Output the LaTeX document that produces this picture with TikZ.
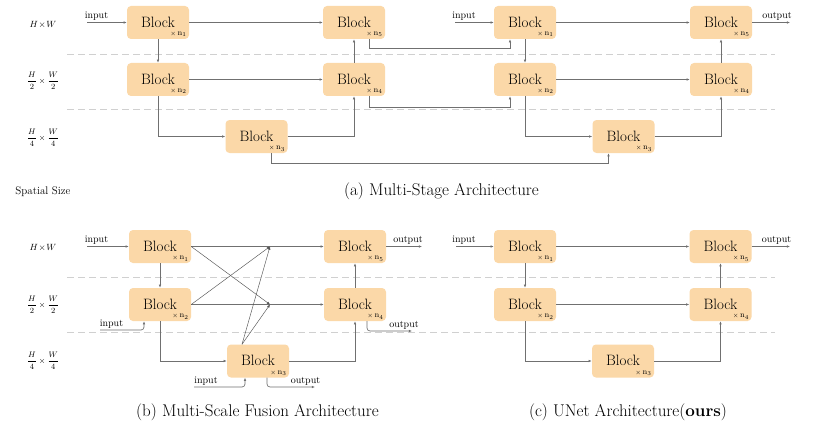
\documentclass[tikz,border=0pt]{standalone}
\usepackage{fontspec}
\usetikzlibrary{arrows.meta,calc}
\definecolor{blkfill}{RGB}{251,216,168}
\definecolor{lncol}{RGB}{112,112,112}
\definecolor{dashcol}{RGB}{208,208,208}
\tikzset{
 blk/.style={fill=blkfill, draw=none, rounded corners=4pt, minimum width=62pt, minimum height=33pt, inner sep=0pt, font=\fontsize{15}{18}\selectfont},
 subl/.style={anchor=south east, inner sep=0pt, xshift=-2.5pt, yshift=2pt, font=\fontsize{8}{9}\selectfont},
 conn/.style={draw=lncol, line width=0.65pt},
 arr/.style={conn, -{Latex[length=3.2pt,width=2.6pt]}},
 diag/.style={draw=lncol!75!black, line width=0.45pt, -{Latex[length=3.2pt,width=2.6pt]}},
 sepline/.style={draw=dashcol, line width=0.8pt, dash pattern=on 7pt off 4pt},
 io/.style={anchor=south, font=\fontsize{10}{12}\selectfont, inner sep=1.5pt},
 sizelab/.style={font=\fontsize{9}{11}\selectfont},
 fraclab/.style={font=\fontsize{8}{10}\selectfont},
 capt/.style={font=\fontsize{17}{20}\selectfont},
}
\newcommand\blkn[4]{%
  \node[blk] (#1) at (#2,#3) {\raisebox{1pt}{Block}};
  \node[subl] (#1s) at (#1.south east) {${\scriptstyle\times}\,\mathrm{n}_{#4}$};}
\newcommand\fraclabel[1]{$\displaystyle\frac{H}{#1}\times\frac{W}{#1}$}
\begin{document}
\begin{tikzpicture}[x=1pt,y=-1pt]
\fill[white] (0,0) rectangle (817,428);
\useasboundingbox (0,0) rectangle (817,428);

% ---------- separators ----------
\draw[sepline] (67,54) -- (775,54);
\draw[sepline] (67,109) -- (775,109);
\draw[sepline] (67,277) -- (775,277);
\draw[sepline] (67,332) -- (775,332);

% ---------- size labels ----------
\node[sizelab] (s1) at (43,25) {$H\!\times\! W$};
\node[fraclab] (s2) at (43,80.5) {\fraclabel{2}};
\node[fraclab] (s3) at (43,137.5) {\fraclabel{4}};
\node[font=\fontsize{11}{13}\selectfont] (ss) at (43,192) {Spatial Size};
\node[sizelab] (t1) at (43,248) {$H\!\times\! W$};
\node[fraclab] (t2) at (43,304.5) {\fraclabel{2}};
\node[fraclab] (t3) at (43,361) {\fraclabel{4}};

% ---------- (a) stage 1 ----------
\blkn{a1}{158}{22.5}{1}
\blkn{a2}{158}{79.5}{2}
\blkn{a3}{256.5}{136.5}{3}
\blkn{a4}{354}{79.5}{4}
\blkn{a5}{354}{22.5}{5}
% ---------- (a) stage 2 ----------
\blkn{c1}{525}{22.5}{1}
\blkn{c2}{525}{79.5}{2}
\blkn{c3}{623.5}{136.5}{3}
\blkn{c4}{721}{79.5}{4}
\blkn{c5}{721}{22.5}{5}

\foreach \S in {a,c}{
  \draw[arr] (\S1) -- (\S5);
  \draw[arr] (\S1) -- (\S2);
  \draw[arr] (\S2) -- (\S4);
  \draw[arr] (\S2) |- (\S3);
  \draw[arr] (\S3) -| (\S4);
  \draw[arr] (\S4) -- (\S5);
}
\draw[arr] ([xshift=15pt]a5.south) -- ++(0,9) -| ([xshift=-15pt]c1.south);
\draw[arr] ([xshift=15pt]a4.south) -- ++(0,11) -| ([xshift=-15pt]c2.south);
\draw[arr] ([xshift=15pt]a3.south) -- ++(0,10) -| ([xshift=-15pt]c3.south);

\coordinate (ain1) at (87,22.5);
\draw[arr] (ain1) -- (a1);
\node[io] (ain1t) at (96.5,22.5) {input};
\coordinate (ain2) at (455,22.5);
\draw[arr] (ain2) -- (c1);
\node[io] (ain2t) at (464,22.5) {input};
\coordinate (aout) at (790,22.5);
\draw[arr] (c5) -- (aout);
\node[io] (aoutt) at (777,22.5) {output};

\node[capt] (capa) at (441.5,191) {(a) Multi-Stage Architecture};

% ---------- (b) ----------
\blkn{b1}{160}{246.5}{1}
\blkn{b2}{160}{304.5}{2}
\blkn{b3}{258}{361}{3}
\blkn{b4}{355}{304.5}{4}
\blkn{b5}{355}{246.5}{5}
\draw[arr] (b1) -- (b5);
\draw[arr] (b1) -- (b2);
\draw[arr] (b2) -- (b4);
\draw[arr] (b2) |- (b3);
\draw[arr] (b3) -| (b4);
\draw[arr] (b4) -- (b5);
\coordinate (m1) at (270,246.5);
\coordinate (m2) at (270,304.5);
\draw[diag] (b1.east) -- (m2);
\draw[diag] (b2.east) -- (m1);
\draw[diag] ([xshift=-16pt]b3.north) -- (m1);
\draw[diag] ([xshift=-16pt]b3.north) -- (m2);

\coordinate (bi1) at (87,246.5);
\draw[arr] (bi1) -- (b1);
\node[io] (bi1t) at (96.5,246.5) {input};
\coordinate (bi2) at (100,330);
\draw[arr, rounded corners=3pt] (bi2) -| ([xshift=-16pt]b2.south);
\node[io] (bi2t) at (111.5,330) {input};
\coordinate (bi3) at (194,387);
\draw[arr, rounded corners=3pt] (bi3) -| ([xshift=-13pt]b3.south);
\node[io] (bi3t) at (206,387) {input};

\coordinate (bo5) at (422,246.5);
\draw[arr] (b5) -- (bo5);
\node[io] (bo5t) at (408,246.5) {output};
\coordinate (bo4) at (412,331);
\draw[arr, rounded corners=3pt] ([xshift=12pt]b4.south) |- (bo4);
\node[io] (bo4t) at (404,331) {output};
\coordinate (bo3) at (315,387);
\draw[arr, rounded corners=3pt] ([xshift=9pt]b3.south) |- (bo3);
\node[io] (bo3t) at (305.5,387) {output};

\node[capt] (capb) at (257.5,412) {(b) Multi-Scale Fusion Architecture};

% ---------- (c) ----------
\blkn{u1}{525}{246.5}{1}
\blkn{u2}{525}{304.5}{2}
\blkn{u3}{623}{361}{3}
\blkn{u4}{720.5}{304.5}{4}
\blkn{u5}{720.5}{246.5}{5}
\draw[arr] (u1) -- (u5);
\draw[arr] (u1) -- (u2);
\draw[arr] (u2) -- (u4);
\draw[arr] (u2) |- (u3);
\draw[arr] (u3) -| (u4);
\draw[arr] (u4) -- (u5);
\coordinate (ui1) at (456,246.5);
\draw[arr] (ui1) -- (u1);
\node[io] (ui1t) at (464,246.5) {input};
\coordinate (uo5) at (790,246.5);
\draw[arr] (u5) -- (uo5);
\node[io] (uo5t) at (776.5,246.5) {output};

\node[capt] (capc) at (628,412) {(c) UNet Architecture(\textbf{ours})};
\end{tikzpicture}
\end{document}
